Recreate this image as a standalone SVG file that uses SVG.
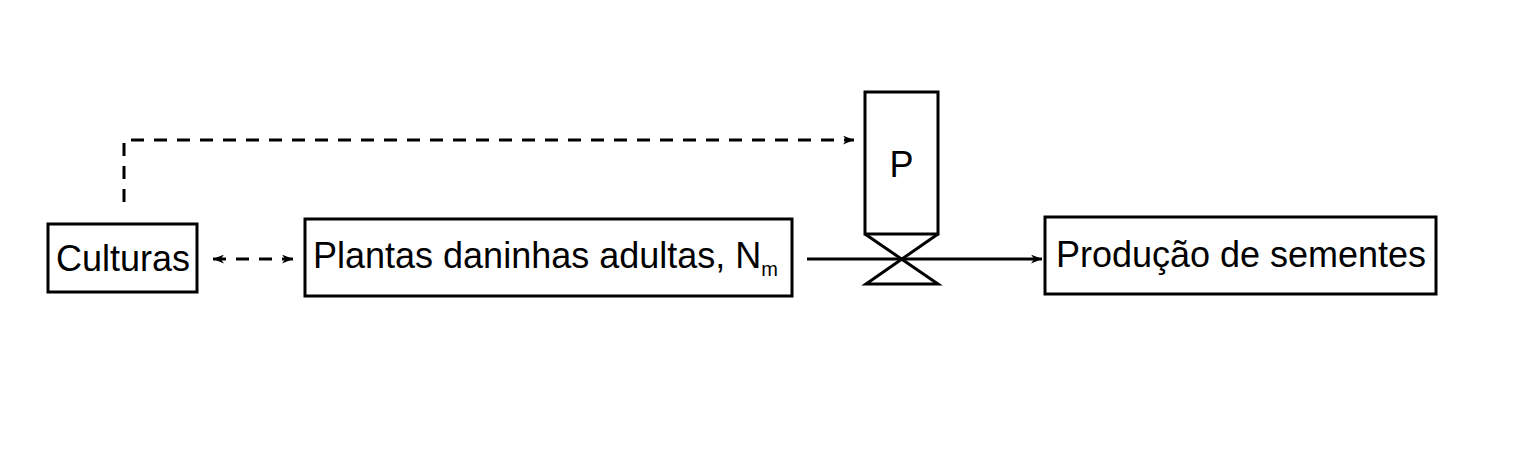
<svg xmlns="http://www.w3.org/2000/svg" width="1519" height="454" viewBox="0 0 1519 454">
<style>
.box{fill:#fff;stroke:#000;stroke-width:3}
.t{font-family:"Liberation Sans",Arial,sans-serif;font-size:36px;fill:#000}
.ln{fill:none;stroke:#000;stroke-width:3}
.dash{stroke-dasharray:13 10}
</style>
<defs>
<marker id="ah" viewBox="0 0 10 8" refX="10" refY="4" markerWidth="11" markerHeight="9" markerUnits="userSpaceOnUse" orient="auto-start-reverse">
<path d="M0,0 L10,4 L0,8 L3,4 z" fill="#000"/>
</marker>
</defs>
<rect width="1519" height="454" fill="#fff"/>
<g id="connectors">
<path class="ln dash" d="M124,202 V140 H854" marker-end="url(#ah)"/>
<path class="ln dash" d="M213,259 H293" marker-start="url(#ah)" marker-end="url(#ah)"/>
<path class="ln" d="M807,259 H1042" marker-end="url(#ah)"/>
</g>
<g id="culturas">
<rect class="box" x="48" y="224" width="149" height="68"/>
<text class="t" x="123" y="271" text-anchor="middle">Culturas</text>
</g>
<g id="plantas">
<rect class="box" x="305" y="219" width="487" height="77"/>
<text class="t" x="313" y="268">Plantas daninhas adultas, N<tspan font-size="20" dy="8">m</tspan></text>
</g>
<g id="p">
<rect class="box" x="865" y="92" width="73" height="142"/>
<text class="t" x="901.5" y="177" text-anchor="middle">P</text>
<path class="ln" d="M865,234 L938,284 H866 L938,234"/>
</g>
<g id="producao">
<rect class="box" x="1045" y="217" width="391" height="77"/>
<text class="t" x="1241" y="267" text-anchor="middle">Produção de sementes</text>
</g>
</svg>
